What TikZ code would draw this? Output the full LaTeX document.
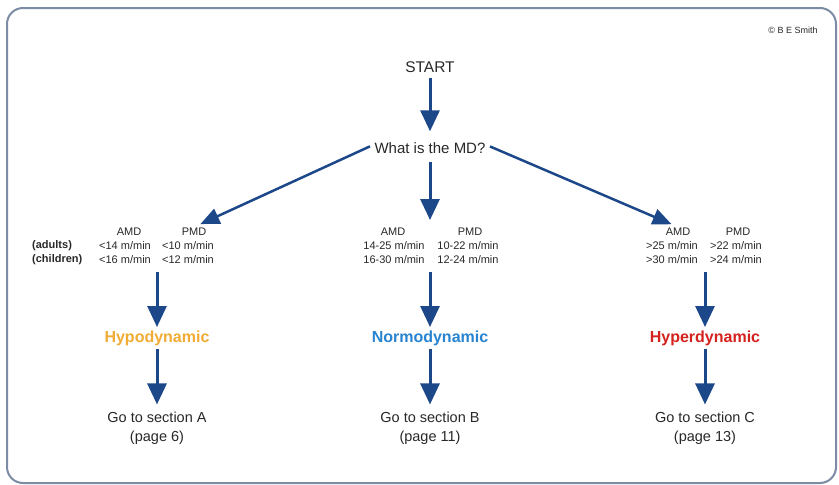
\documentclass[tikz,border=0pt]{standalone}
\usepackage{fontspec}
\setmainfont{Liberation Sans}
\usetikzlibrary{arrows.meta}

\definecolor{arrowblue}{RGB}{28,72,138}
\definecolor{framegray}{RGB}{125,140,165}
\definecolor{textgray}{RGB}{40,40,40}
\definecolor{hypocol}{RGB}{240,172,52}
\definecolor{normocol}{RGB}{40,132,208}
\definecolor{hypercol}{RGB}{212,34,30}

\tikzset{
  down/.style={draw=arrowblue, line width=3pt, -{Triangle[length=21pt,width=19pt]}},
  side/.style={draw=arrowblue, line width=2.5pt, -{Triangle[length=19pt,width=16pt]}},
  big/.style={text=textgray, font=\fontsize{15}{18}\selectfont},
  small/.style={text=textgray, font=\fontsize{11}{13}\selectfont, inner sep=1pt},
  dyn/.style={font=\fontsize{16}{19}\selectfont\bfseries},
  goto/.style={text=textgray, align=center, font=\fontsize{14.5}{18.5}\selectfont}
}

\begin{document}
\begin{tikzpicture}[x=1pt,y=-1pt]
\fill[white] (0,0) rectangle (839,485);
\draw[framegray, line width=2pt, rounded corners=16pt] (7,8) rectangle (836,483);

\node[text=textgray, font=\fontsize{9}{11}\selectfont] (copy) at (793,30) {\textcopyright\ B E Smith};

\node[big, font=\fontsize{15.5}{18}\selectfont] (start) at (430,67) {START};
\node[big, inner sep=8pt] (md) at (430,148) {What is the MD?};

\node[small] (lamd) at (129,232) {AMD};
\node[small] (lpmd) at (194,232) {PMD};
\node[small, anchor=west, font=\fontsize{11}{13}\selectfont\bfseries] (adults) at (31,246) {(adults)};
\node[small, anchor=west, font=\fontsize{11}{13}\selectfont\bfseries] (children) at (31,260) {(children)};
\node[small] (la1) at (125,246) {<14 m/min};
\node[small] (lp1) at (188,246) {<10 m/min};
\node[small] (la2) at (125,260) {<16 m/min};
\node[small] (lp2) at (188,260) {<12 m/min};

\node[small] (namd) at (393,232) {AMD};
\node[small] (npmd) at (470,232) {PMD};
\node[small] (na1) at (394,246) {14-25 m/min};
\node[small] (np1) at (468,246) {10-22 m/min};
\node[small] (na2) at (394,260) {16-30 m/min};
\node[small] (np2) at (468,260) {12-24 m/min};

\node[small] (ramd) at (678,232) {AMD};
\node[small] (rpmd) at (738,232) {PMD};
\node[small] (ra1) at (672,246) {>25 m/min};
\node[small] (rp1) at (736,246) {>22 m/min};
\node[small] (ra2) at (672,260) {>30 m/min};
\node[small] (rp2) at (736,260) {>24 m/min};

\coordinate (ctop) at (430,220);
\coordinate (lbot) at (157,272);
\coordinate (nbot) at (430,272);
\coordinate (rbot) at (705,272);

\node[dyn, text=hypocol] (hypo) at (157,338) {Hypodynamic};
\node[dyn, text=normocol] (normo) at (430,338) {Normodynamic};
\node[dyn, text=hypercol] (hyper) at (705,338) {Hyperdynamic};

\node[goto] (gotoa) at (157,428) {Go to section A\\(page 6)};
\node[goto] (gotob) at (430,428) {Go to section B\\(page 11)};
\node[goto] (gotoc) at (705,428) {Go to section C\\(page 13)};

\draw[down, shorten <=2pt, shorten >=3pt] (start) -- (md);
\draw[down] (md.south) -- (ctop);
\draw[side, shorten <=-4pt, shorten >=7pt] (md.west) -- (lpmd.north);
\draw[side, shorten <=-4pt, shorten >=7pt] (md.east) -- (ramd.north);

\draw[down] (lbot) -- (hypo);
\draw[down] (nbot) -- (normo);
\draw[down] (rbot) -- (hyper);

\draw[down, shorten >=4pt] (hypo) -- (gotoa);
\draw[down, shorten >=4pt] (normo) -- (gotob);
\draw[down, shorten >=4pt] (hyper) -- (gotoc);

\end{tikzpicture}
\end{document}
